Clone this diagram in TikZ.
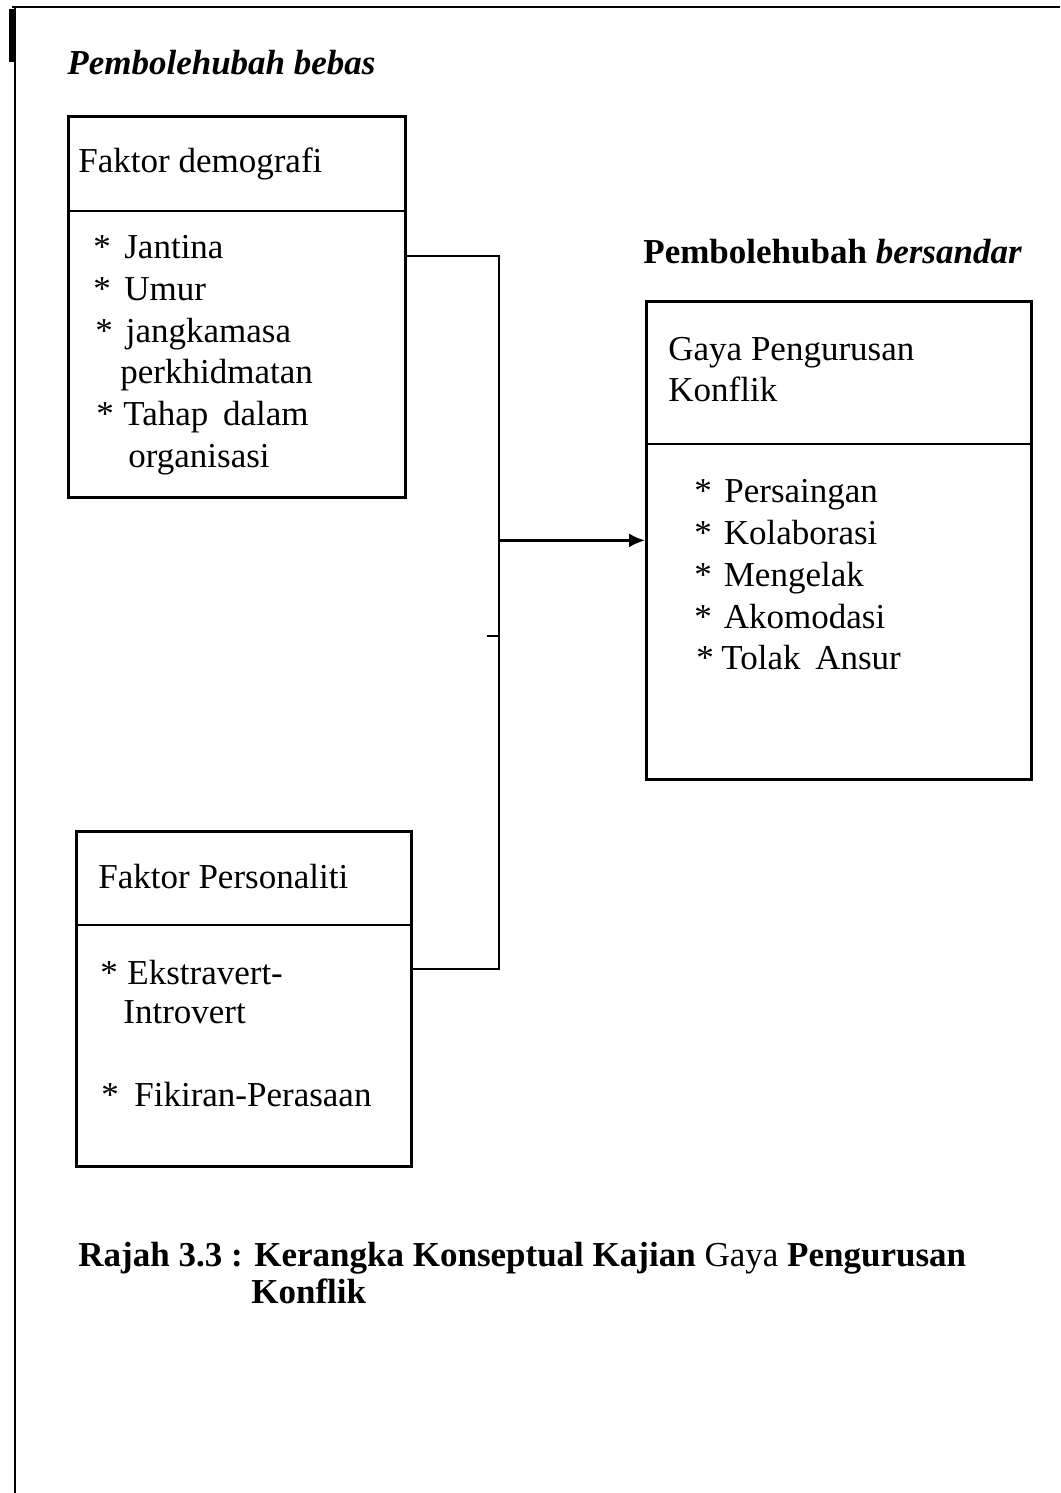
\documentclass[tikz,border=0pt]{standalone}
\usepackage{fontspec}
\setmainfont{Liberation Serif}
\usetikzlibrary{positioning,arrows.meta}

\begin{document}
\begin{tikzpicture}[x=0.5pt,y=-0.5pt,
  kotak/.style={draw,line width=1.4pt,inner sep=0pt,anchor=north west},
  garis/.style={line width=1.2pt},
  teks/.style={anchor=base west,inner sep=0pt,font=\fontsize{17.5}{21}\selectfont}]
\useasboundingbox (0,0) rectangle (1060,1493);
% bingkai halaman
\draw[line width=1pt] (12,7) -- (1060,7);
\draw[line width=1pt] (15,7) -- (15,1493);
\fill (9,9) rectangle (15,62);

\node[teks,font=\fontsize{17.5}{21}\selectfont\bfseries\itshape] (tajukbebas) at (67,75) {Pembolehubah bebas};
\node[teks,font=\fontsize{17.5}{21}\selectfont\bfseries] (tajuksandar) at (643,263) {Pembolehubah \textit{bersandar}};

% faktor demografi
\node[kotak,minimum width=168.5pt,minimum height=190.5pt] (demo) at (67,115) {};
\draw[kotak] (demo.west |- 0,211) -- (demo.east |- 0,211);
\node[teks] (demotajuk) at (78,172) {Faktor demografi};
\node[teks] (jantina) at (93,258) {*\hspace{6.75pt}Jantina};
\node[teks] (umur) at (93,300) {*\hspace{6.75pt}Umur};
\node[teks] (jangka) at (95,342) {*\hspace{6.5pt}jangkamasa};
\node[teks] (khidmat) at (120,383) {perkhidmatan};
\node[teks] (tahap) at (96,425) {*\hspace{4.75pt}Tahap\hspace{3pt} dalam};
\node[teks] (organ) at (128,467) {organisasi};

% gaya pengurusan konflik
\node[kotak,minimum width=192.5pt,minimum height=239pt] (gaya) at (645,300) {};
\draw[kotak] (gaya.west |- 0,444) -- (gaya.east |- 0,444);
\node[teks] (gayatajuk) at (668,360) {Gaya Pengurusan};
\node[teks] (gayatajukb) at (668,401) {Konflik};
\node[teks] (saing) at (694,502) {*\hspace{6.25pt}Persaingan};
\node[teks] (kolab) at (694,544) {*\hspace{6pt}Kolaborasi};
\node[teks] (elak) at (694,586) {*\hspace{6pt}Mengelak};
\node[teks] (akomo) at (694,628) {*\hspace{6pt}Akomodasi};
\node[teks] (tolak) at (696,669) {*\hspace{3.75pt}Tolak\hspace{3pt} Ansur};

% faktor personaliti
\node[kotak,minimum width=167.5pt,minimum height=167.5pt] (perso) at (75,830) {};
\draw[kotak] (perso.west |- 0,925) -- (perso.east |- 0,925);
\node[teks] (persotajuk) at (98,888) {Faktor Personaliti};
\node[teks] (ekstra) at (100,984) {*\hspace{4.75pt}Ekstravert-};
\node[teks] (intro) at (123,1023) {Introvert};
\node[teks] (fikir) at (101,1106) {*\hspace{7.75pt}Fikiran-Perasaan};

% penyambung
\coordinate (atas) at (499,256);
\coordinate (bawah) at (499,969);
\coordinate (tanda) at (499,636);
\draw[garis] (demo.east |- atas) -- (atas) -- (bawah) -- (perso.east |- bawah);
\draw[garis,-{Latex[length=8pt,width=7pt]}] (atas |- gaya.west) -- (gaya.west);
\draw[garis] (tanda) -- ++(-12,0);

% kapsyen
\node[teks,font=\fontsize{17.5}{21}\selectfont\bfseries] (kapsyen) at (78,1266) {Rajah 3.3 : Kerangka Konseptual Kajian \textmd{Gaya} Pengurusan};
\node[teks,font=\fontsize{17.5}{21}\selectfont\bfseries] (kapsyenb) at (251,1303) {Konflik};
\end{tikzpicture}
\end{document}
